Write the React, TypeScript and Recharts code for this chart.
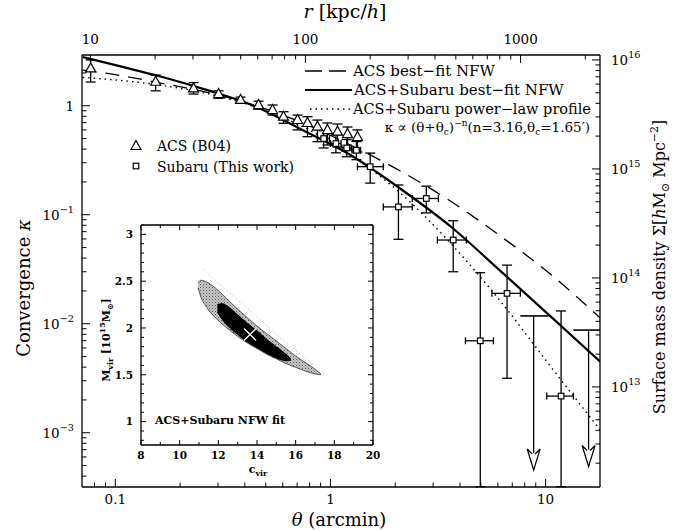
import React from "react";
import { ComposedChart, Line, Scatter, Area, XAxis, YAxis, ErrorBar } from "recharts";

const FONT = "'DejaVu Serif', 'Liberation Serif', serif";

// ---------- main panel: convergence profile (theta in arcmin, kappa) ----------
// ACS (B04) triangles
const acsTheta = [0.0768, 0.154, 0.231, 0.302, 0.382, 0.463, 0.538, 0.605, 0.703, 0.782, 0.87, 0.968, 1.078, 1.2, 1.335];
const acsKappa = [2.2, 1.66, 1.44, 1.28, 1.13, 1.015, 0.913, 0.793, 0.74, 0.694, 0.642, 0.598, 0.578, 0.55, 0.516];
const acsKappaLo = [1.65, 1.37, 1.28, 1.17, 1.06, 0.93, 0.821, 0.69, 0.6, 0.52, 0.468, 0.436, 0.418, 0.393, 0.376];
const acsKappaHi = [2.63, 1.91, 1.63, 1.37, 1.2, 1.1, 1.015, 0.881, 0.821, 0.793, 0.739, 0.694, 0.68, 0.638, 0.6];

// Subaru (this work) squares
const subTheta = [0.93, 1.06, 1.19, 1.32, 1.53, 2.07, 2.79, 3.72, 4.97, 6.62, 11.8];
const subThetaLo = [0.87, 1.0, 1.13, 1.26, 1.335, 1.76, 2.4, 3.14, 4.24, 5.63, 10.13];
const subThetaHi = [0.99, 1.12, 1.25, 1.38, 1.76, 2.4, 3.175, 4.28, 5.72, 7.63, 13.46];
const subKappa = [0.5, 0.45, 0.41, 0.39, 0.276, 0.118, 0.141, 0.0586, 0.00698, 0.019, 0.00217];
const subKappaLo = [0.41, 0.37, 0.34, 0.32, 0.195, 0.0595, 0.104, 0.03, 0.00032, 0.00316, 0.00032];
const subKappaHi = [0.59, 0.54, 0.49, 0.47, 0.368, 0.1875, 0.183, 0.0881, 0.0294, 0.0345, 0.0131];

// Subaru upper limits (arrows)
const ulTheta = [8.8, 15.84];
const ulThetaLo = [7.63, 13.46];
const ulThetaHi = [10.33, 17.9];
const ulKappa = [0.0118, 0.00875];
const ulTip = [0.000455, 0.00049];

// model curves
const acsNfwTheta = [0.0705, 0.1058, 0.1623, 0.2627, 0.425, 0.7256, 1.2386, 2.114, 3.608, 6.16, 10.515, 17.95];
const acsNfwKappa = [2.126, 1.893, 1.615, 1.336, 1.037, 0.7086, 0.4359, 0.2518, 0.1336, 0.0638, 0.02858, 0.01128];
const jointNfwTheta = [0.0705, 0.1058, 0.1623, 0.2627, 0.425, 0.7256, 1.2386, 2.114, 3.608, 6.16, 10.515, 17.95];
const jointNfwKappa = [2.8, 2.294, 1.853, 1.405, 1.028, 0.6112, 0.3529, 0.1732, 0.0784, 0.03057, 0.01175, 0.00449];
const powTheta = [0.0705, 0.1058, 0.1623, 0.2627, 0.425, 0.7256, 1.2386, 2.114, 3.608, 6.16, 10.515, 17.95];
const powKappa = [1.818, 1.707, 1.542, 1.302, 1.006, 0.657, 0.3537, 0.1581, 0.055, 0.01615, 0.00409, 0.001059];

// axes
const SIGMA_CRIT = 3.8e15; // Sigma per unit kappa (right axis)
const R_PER_ARCMIN = 130.7; // kpc/h per arcmin (top axis)
const thetaDomain = [0.07, 17.9];
const kappaDomain = [0.000318, 2.92];
const thetaMajor = [0.1, 1, 10];
const thetaTicks = [0.08, 0.09, 0.1, 0.2, 0.3, 0.4, 0.5, 0.6, 0.7, 0.8, 0.9, 1, 2, 3, 4, 5, 6, 7, 8, 9, 10];
const kappaMajor = [0.001, 0.01, 0.1, 1];
const kappaTicks = [
  0.0004, 0.0005, 0.0006, 0.0007, 0.0008, 0.0009, 0.001, 0.002, 0.003, 0.004, 0.005, 0.006, 0.007, 0.008, 0.009,
  0.01, 0.02, 0.03, 0.04, 0.05, 0.06, 0.07, 0.08, 0.09, 0.1, 0.2, 0.3, 0.4, 0.5, 0.6, 0.7, 0.8, 0.9, 1, 2,
];
const sigmaMajor = [1e13, 1e14, 1e15, 1e16];
const sigmaTicks = [
  2e12, 3e12, 4e12, 5e12, 6e12, 7e12, 8e12, 9e12, 1e13, 2e13, 3e13, 4e13, 5e13, 6e13, 7e13, 8e13, 9e13,
  1e14, 2e14, 3e14, 4e14, 5e14, 6e14, 7e14, 8e14, 9e14, 1e15, 2e15, 3e15, 4e15, 5e15, 6e15, 7e15, 8e15, 9e15, 1e16,
];
const rMajor = [10, 100, 1000];
const rTicks = [10, 20, 30, 40, 50, 60, 70, 80, 90, 100, 200, 300, 400, 500, 600, 700, 800, 900, 1000, 2000];

// ---------- inset: c_vir - M_vir confidence regions ----------
const outerC = [10.95, 11.1, 11.4, 12.0, 12.5, 13.0, 13.5, 14.0, 14.5, 15.0, 15.5, 16.0, 16.5, 17.0, 17.3];
const outerLo = [2.43, 2.33, 2.22, 2.08, 1.99, 1.91, 1.84, 1.78, 1.72, 1.67, 1.62, 1.58, 1.54, 1.51, 1.5];
const outerHi = [2.48, 2.51, 2.49, 2.4, 2.3, 2.2, 2.11, 2.02, 1.94, 1.86, 1.78, 1.7, 1.63, 1.56, 1.51];
const innerC = [11.95, 12.2, 12.5, 13.0, 13.5, 14.0, 14.5, 15.0, 15.5, 15.75];
const innerLo = [2.17, 2.09, 2.02, 1.93, 1.85, 1.79, 1.73, 1.68, 1.65, 1.655];
const innerHi = [2.25, 2.26, 2.23, 2.14, 2.05, 1.97, 1.88, 1.8, 1.72, 1.67];
const faintC = [11.2, 12.0, 13.0, 14.0, 15.0, 16.0, 17.0];
const faintM = [2.63, 2.48, 2.3, 2.12, 1.93, 1.76, 1.6];
const bestC = [13.64];
const bestM = [1.93];
const cTicks = [8, 9, 10, 11, 12, 13, 14, 15, 16, 17, 18, 19, 20];
const cMajor = [8, 10, 12, 14, 16, 18, 20];
const mTicks = [0.8, 0.9, 1, 1.1, 1.2, 1.3, 1.4, 1.5, 1.6, 1.7, 1.8, 1.9, 2, 2.1, 2.2, 2.3, 2.4, 2.5, 2.6, 2.7, 2.8, 2.9, 3, 3.1];
const mMajor = [1, 1.5, 2, 2.5, 3];

const AXIS = { stroke: "#000", strokeWidth: 1.3 };

const isMajor = (v: number, majors: number[]) => majors.some((m) => Math.abs(v - m) <= Math.abs(m) * 1e-6);
const plainFmt = (v: number) => ({ base: String(v) });
const powFmt = (v: number) => {
  const e = Math.round(Math.log10(v));
  return e === 0 ? { base: "1" } : { base: "10", exp: String(e).replace("-", "\u2212") };
};

function Tick(props: any) {
  const { x, y, payload, side, majors, fmt, big = 8, small = 4.5, size = 13.5, gap = 20, bold = false } = props;
  const v = payload.value;
  const major = isMajor(v, majors);
  const len = major ? big : small;
  let l = [x, y, x, y - len];
  if (side === "top") l = [x, y, x, y + len];
  if (side === "left") l = [x, y, x + len, y];
  if (side === "right") l = [x, y, x - len, y];
  const lab = major && fmt ? fmt(v) : null;
  let tx = x, ty = y, anchor = "middle";
  if (side === "bottom") ty = y + gap;
  if (side === "top") ty = y - 11;
  if (side === "left") { tx = x - 8; ty = y + size * 0.36; anchor = "end"; }
  if (side === "right") { tx = x + 11; ty = y + size * 0.36; anchor = "start"; }
  return (
    <g>
      <line x1={l[0]} y1={l[1]} x2={l[2]} y2={l[3]} stroke="#000" strokeWidth={1} />
      {lab && (
        <text x={tx} y={ty} textAnchor={anchor} fontSize={size} fontFamily={FONT} fontWeight={bold ? "bold" : "normal"} fill="#000">
          {lab.base}
          {lab.exp && <tspan dy={-7} fontSize={size * 0.72}>{lab.exp}</tspan>}
        </text>
      )}
    </g>
  );
}

const Triangle = (p: any) =>
  p.cx == null ? <g /> : (
    <path d={`M${p.cx},${p.cy - 5.5}L${p.cx + 5},${p.cy + 3.5}L${p.cx - 5},${p.cy + 3.5}Z`} fill="#fff" stroke="#000" strokeWidth={1.2} />
  );
const Square = (p: any) =>
  p.cx == null ? <g /> : <rect x={p.cx - 2.8} y={p.cy - 2.8} width={5.6} height={5.6} fill="#fff" stroke="#000" strokeWidth={1.2} />;
const NoMark = () => <g />;
const ArrowHead = (p: any) =>
  p.cx == null ? <g /> : (
    <path
      d={`M${p.cx - 6.5},${p.cy - 21}L${p.cx},${p.cy}L${p.cx + 6.5},${p.cy - 21}L${p.cx + 1.5},${p.cy - 16}M${p.cx - 6.5},${p.cy - 21}L${p.cx - 1.5},${p.cy - 16}`}
      fill="#fff"
      stroke="#000"
      strokeWidth={1.2}
    />
  );
const WhiteCross = (p: any) =>
  p.cx == null ? <g /> : (
    <path d={`M${p.cx - 6},${p.cy - 6}L${p.cx + 6},${p.cy + 6}M${p.cx - 6},${p.cy + 6}L${p.cx + 6},${p.cy - 6}`} stroke="#fff" strokeWidth={1.3} />
  );

export default function App() {
  const acs = acsTheta.map((t, i) => ({ t, k: acsKappa[i], ey: [acsKappa[i] - acsKappaLo[i], acsKappaHi[i] - acsKappa[i]] }));
  const sub = subTheta.map((t, i) => ({
    t,
    k: subKappa[i],
    ex: [t - subThetaLo[i], subThetaHi[i] - t],
    ey: [subKappa[i] - subKappaLo[i], subKappaHi[i] - subKappa[i]],
  }));
  const ul = ulTheta.map((t, i) => ({ t, k: ulKappa[i], ex: [t - ulThetaLo[i], ulThetaHi[i] - t], ey: [ulKappa[i] - ulTip[i], 0] }));
  const arrows = ulTheta.map((t, i) => ({ t, k: ulTip[i] }));
  const acsNfw = acsNfwTheta.map((t, i) => ({ t, k: acsNfwKappa[i] }));
  const jointNfw = jointNfwTheta.map((t, i) => ({ t, k: jointNfwKappa[i] }));
  const pow = powTheta.map((t, i) => ({ t, k: powKappa[i] }));
  // same joint profile expressed against physical radius, binds the top axis
  const jointNfwR = jointNfwTheta.map((t, i) => ({ t: t * R_PER_ARCMIN, k: jointNfwKappa[i] }));

  const outer = outerC.map((c, i) => ({ c, m: [outerLo[i], outerHi[i]] }));
  const inner = innerC.map((c, i) => ({ c, m: [innerLo[i], innerHi[i]] }));
  const faint = faintC.map((c, i) => ({ c, m: faintM[i] }));
  const best = bestC.map((c, i) => ({ c, m: bestM[i] }));

  const rDomain = thetaDomain.map((v) => v * R_PER_ARCMIN);
  const sigmaDomain = kappaDomain.map((v) => v * SIGMA_CRIT);

  const commonAxis = { tickLine: false, tickSize: 0, tickMargin: 0, axisLine: AXIS, interval: 0 as const, allowDataOverflow: true };

  return (
    <div style={{ position: "absolute", left: 0, top: 0, width: 683, height: 531, background: "#fff", fontFamily: FONT }}>
      {/* main chart */}
      <div style={{ position: "absolute", left: 0, top: 0 }}>
        <ComposedChart width={683} height={531} margin={{ top: 0, right: 0, bottom: 0, left: 0 }}>
          <XAxis xAxisId="b" type="number" dataKey="t" scale="log" domain={thetaDomain} ticks={thetaTicks} height={44} {...commonAxis}
            tick={(p: any) => <Tick {...p} side="bottom" majors={thetaMajor} fmt={plainFmt} gap={17} />} />
          <XAxis xAxisId="t" orientation="top" type="number" dataKey="t" scale="log" domain={rDomain} ticks={rTicks} height={55} {...commonAxis}
            tick={(p: any) => <Tick {...p} side="top" majors={rMajor} fmt={plainFmt} />} />
          <YAxis yAxisId="l" type="number" scale="log" domain={kappaDomain} ticks={kappaTicks} width={82} {...commonAxis}
            tick={(p: any) => <Tick {...p} side="left" majors={kappaMajor} fmt={powFmt} />} />
          <YAxis yAxisId="r" orientation="right" type="number" scale="log" domain={sigmaDomain} ticks={sigmaTicks} width={83} {...commonAxis}
            tick={(p: any) => <Tick {...p} side="right" majors={sigmaMajor} fmt={powFmt} />} />

          <Line xAxisId="t" yAxisId="l" data={jointNfwR} dataKey="k" stroke="none" dot={false} activeDot={false} isAnimationActive={false} />
          <Line xAxisId="b" yAxisId="l" data={acsNfw} dataKey="k" type="monotone" stroke="#000" strokeWidth={1.3} strokeDasharray="14 9" dot={false} activeDot={false} isAnimationActive={false} />
          <Line xAxisId="b" yAxisId="l" data={pow} dataKey="k" type="monotone" stroke="#000" strokeWidth={1.4} strokeDasharray="1.5 4" dot={false} activeDot={false} isAnimationActive={false} />
          <Line xAxisId="b" yAxisId="l" data={jointNfw} dataKey="k" type="monotone" stroke="#000" strokeWidth={2.2} dot={false} activeDot={false} isAnimationActive={false} />

          <Scatter xAxisId="b" yAxisId="l" data={acs} dataKey="k" shape={Triangle} isAnimationActive={false}>
            <ErrorBar dataKey="ey" direction="y" width={5} stroke="#000" strokeWidth={1.3} />
          </Scatter>
          <Scatter xAxisId="b" yAxisId="l" data={sub} dataKey="k" shape={Square} isAnimationActive={false}>
            <ErrorBar dataKey="ex" direction="x" width={3.5} stroke="#000" strokeWidth={1.3} />
            <ErrorBar dataKey="ey" direction="y" width={5} stroke="#000" strokeWidth={1.3} />
          </Scatter>
          <Scatter xAxisId="b" yAxisId="l" data={ul} dataKey="k" shape={NoMark} isAnimationActive={false}>
            <ErrorBar dataKey="ex" direction="x" width={0} stroke="#000" strokeWidth={1.6} />
            <ErrorBar dataKey="ey" direction="y" width={0} stroke="#000" strokeWidth={1.3} />
          </Scatter>
          <Scatter xAxisId="b" yAxisId="l" data={arrows} dataKey="k" shape={ArrowHead} isAnimationActive={false} />
        </ComposedChart>
      </div>

      {/* inset */}
      <div style={{ position: "absolute", left: 95, top: 215, background: "#fff" }}>
        <ComposedChart width={285} height={262} margin={{ top: 9, right: 6, bottom: 0, left: 0 }}>
          <defs>
            <pattern id="stipple" width="3" height="3" patternUnits="userSpaceOnUse">
              <rect width="3" height="3" fill="#c9c9c9" />
              <rect x="0" y="0" width="1" height="1" fill="#555" />
              <rect x="1.5" y="1.5" width="1" height="1" fill="#7a7a7a" />
            </pattern>
          </defs>
          <XAxis xAxisId="b" type="number" dataKey="c" domain={[8, 20]} ticks={cTicks} height={32} {...commonAxis}
            tick={(p: any) => <Tick {...p} side="bottom" majors={cMajor} fmt={plainFmt} big={5} small={3} size={10.5} gap={14} bold />} />
          <XAxis xAxisId="t" orientation="top" type="number" dataKey="c" domain={[8, 20]} ticks={cTicks} height={1} {...commonAxis}
            tick={(p: any) => <Tick {...p} side="top" majors={cMajor} big={5} small={3} />} />
          <YAxis yAxisId="l" type="number" domain={[0.75, 3.1]} ticks={mTicks} width={46} {...commonAxis}
            tick={(p: any) => <Tick {...p} side="left" majors={mMajor} fmt={plainFmt} big={5} small={3} size={10.5} bold />} />
          <YAxis yAxisId="r" orientation="right" type="number" domain={[0.75, 3.1]} ticks={mTicks} width={1} {...commonAxis}
            tick={(p: any) => <Tick {...p} side="right" majors={mMajor} big={5} small={3} />} />

          <Line xAxisId="b" yAxisId="l" data={faint} dataKey="m" type="monotone" stroke="#aaa" strokeWidth={1} strokeDasharray="1 3" dot={false} activeDot={false} isAnimationActive={false} />
          <Area xAxisId="b" yAxisId="l" data={outer} dataKey="m" type="monotone" fill="url(#stipple)" fillOpacity={1} stroke="#333" strokeWidth={0.8} isAnimationActive={false} />
          <Area xAxisId="b" yAxisId="l" data={inner} dataKey="m" type="monotone" fill="#000" fillOpacity={1} stroke="#000" strokeWidth={1} isAnimationActive={false} />
          <Scatter xAxisId="b" yAxisId="l" data={best} dataKey="m" shape={WhiteCross} isAnimationActive={false} />
        </ComposedChart>
      </div>

      {/* titles and legends */}
      <svg width={683} height={531} style={{ position: "absolute", left: 0, top: 0, pointerEvents: "none" }} fontFamily={FONT} fill="#000">
        <text x={345} y={18} fontSize={19} textAnchor="middle">
          <tspan fontStyle="italic">r</tspan> [kpc/<tspan fontStyle="italic">h</tspan>]
        </text>
        <text x={339} y={526} fontSize={18} textAnchor="middle">
          <tspan fontStyle="italic">θ</tspan> (arcmin)
        </text>
        <text transform="rotate(-90)" x={-288} y={30} fontSize={18} textAnchor="middle">
          Convergence <tspan fontStyle="italic">κ</tspan>
        </text>
        <text transform="rotate(-90)" x={-267} y={665} fontSize={16} textAnchor="middle">
          Surface mass density Σ[<tspan fontStyle="italic">h</tspan>M<tspan dy={4} fontSize={11}>⊙</tspan>
          <tspan dy={-4}> Mpc</tspan><tspan dy={-7} fontSize={11}>−2</tspan><tspan dy={7}>]</tspan>
        </text>

        {/* model legend */}
        <line x1={305} x2={350} y1={71} y2={71} stroke="#000" strokeWidth={1.3} strokeDasharray="17 7" />
        <text x={353} y={76} fontSize={15}>ACS best−fit NFW</text>
        <line x1={305} x2={352} y1={90} y2={90} stroke="#000" strokeWidth={2.2} />
        <text x={354} y={95} fontSize={15}>ACS+Subaru best−fit NFW</text>
        <line x1={310} x2={350} y1={109} y2={109} stroke="#000" strokeWidth={1.4} strokeDasharray="1.5 4" />
        <text x={353} y={114} fontSize={14.5}>ACS+Subaru power−law profile</text>
        <text x={590} y={132} fontSize={13.5} textAnchor="end">
          κ ∝ (θ+θ<tspan dy={3} fontSize={9}>c</tspan><tspan dy={-3}>)</tspan><tspan dy={-6} fontSize={9}>−n</tspan>
          <tspan dy={6}>(n=3.16,θ</tspan><tspan dy={3} fontSize={9}>c</tspan><tspan dy={-3}>=1.65′)</tspan>
        </text>

        {/* data legend */}
        <path d="M136,140.5L141,149.5L131,149.5Z" fill="#fff" stroke="#000" strokeWidth={1.2} />
        <text x={157} y={151} fontSize={14}>ACS (B04)</text>
        <rect x={133.2} y={163.2} width={5.6} height={5.6} fill="#fff" stroke="#000" strokeWidth={1.2} />
        <text x={157} y={172} fontSize={14}>Subaru (This work)</text>

        {/* inset titles */}
        <text x={155} y={424} fontSize={11} fontWeight="bold">ACS+Subaru NFW fit</text>
        <text x={258} y={473} fontSize={11} fontWeight="bold" textAnchor="middle">
          c<tspan dy={3} fontSize={8}>vir</tspan>
        </text>
        <text transform="rotate(-90)" x={-340} y={110} fontSize={11} fontWeight="bold" textAnchor="middle">
          M<tspan dy={3} fontSize={8}>vir</tspan>
          <tspan dy={-3}> [10</tspan><tspan dy={-5} fontSize={8}>15</tspan><tspan dy={5}>M</tspan>
          <tspan dy={3} fontSize={8}>⊙</tspan><tspan dy={-3}>]</tspan>
        </text>
      </svg>
    </div>
  );
}
